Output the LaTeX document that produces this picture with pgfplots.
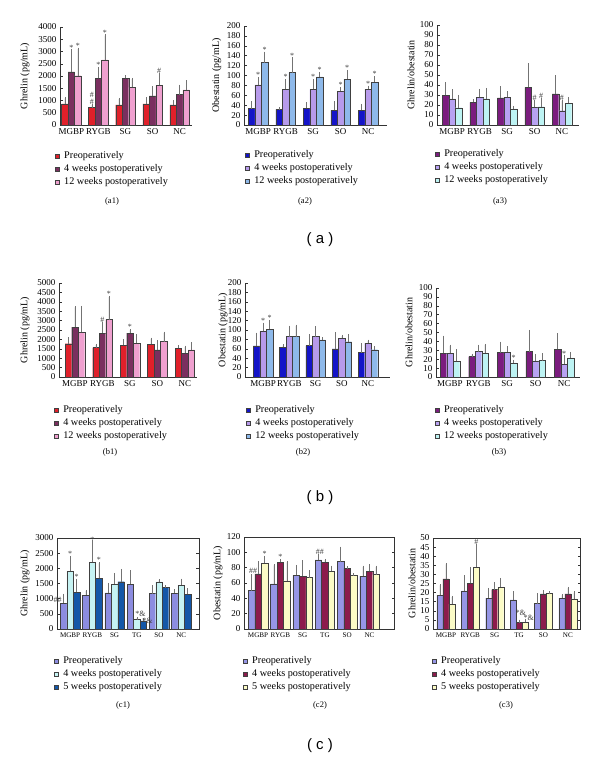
\documentclass[border=0pt]{standalone}
\usepackage{pgfplots}
\pgfplotsset{compat=1.18}
\usepackage{fontspec}
\setmainfont{Liberation Serif}
\newfontfamily\sansf{Liberation Sans}
\newcommand\fs[1]{\fontsize{#1}{#1}\selectfont}

\definecolor{aA}{HTML}{E0202A}
\definecolor{aB}{HTML}{7A2F5F}
\definecolor{aC}{HTML}{EFA0CF}
\definecolor{bA}{HTML}{1414C8}
\definecolor{bB}{HTML}{B79AEB}
\definecolor{bC}{HTML}{8EB9EA}
\definecolor{cA}{HTML}{7B1C7E}
\definecolor{cB}{HTML}{B8A2F2}
\definecolor{cC}{HTML}{BDF3F3}
\definecolor{dA}{HTML}{8C8CE0}
\definecolor{dB}{HTML}{C6F3F3}
\definecolor{dC}{HTML}{1457A8}
\definecolor{eA}{HTML}{9696E6}
\definecolor{eB}{HTML}{8C1B4C}
\definecolor{eC}{HTML}{FBFBC6}

\tikzset{ann/.style={font=\fs{8}, text=black!75, inner sep=0.3pt, anchor=south}}

\pgfplotsset{
  base/.style={
    scale only axis, anchor=south west, clip=false,
    ybar=0pt, bar width=6.5pt, ymin=0,
    /pgf/number format/assume math mode=true,
    /pgf/number format/1000 sep={},
    yticklabel style={font=\fs{9}},
    ylabel style={font=\fs{10}},
    tick align=inside,
    major tick length=2.5pt,
    xtick style={draw=none},
    axis line style={black!80, line width=0.5pt},
    every tick/.style={black!80, line width=0.4pt},
    error bars/y dir=plus, error bars/y explicit,
    error bars/error bar style={black!55, line width=0.5pt},
    error bars/error mark options={black!55, mark size=1.2pt, line width=0.5pt},
    legend cell align=left,
    legend image code/.code={\draw[##1,draw=black!75,line width=0.45pt] (0pt,-2pt) rectangle (4pt,2pt);},
    legend style={draw=none, fill=none, font=\fs{10.2}, inner sep=0pt, anchor=north west,
      row sep=3.2pt, nodes={inner sep=0.6pt},
      /tikz/every odd column/.append style={column sep=4pt}},
    every axis plot/.append style={draw=black!75, line width=0.35pt},
  },
  open/.style={base, axis x line*=bottom, axis y line*=left, axis line style={-},
    xticklabel style={font=\fs{9}}},
  boxed/.style={base, xticklabel style={font=\fs{7.1}}},
}

\begin{document}
\begin{tikzpicture}
\path[use as bounding box] (0pt,0pt) rectangle (600pt,762pt);

% ---------------- (a1)
\begin{axis}[open, at={(60pt,637pt)}, width=132pt, height=98pt,
  xmin=-0.42, xmax=4.46, ymax=4000, ytick={0,500,...,4000},
  xtick={0,...,4}, xticklabels={MGBP,RYGB,SG,SO,NC},
  ylabel={Ghrelin (pg/mL)}, ylabel style={at={(axis description cs:-0.265,0.5)},anchor=center},
  legend style={at={(-0.038,-0.265)}}]
\addplot[fill=aA] coordinates {(0,860)+-(0,230) (1,710)+-(0,110) (2,820)+-(0,240) (3,860)+-(0,230) (4,820)+-(0,140)};
\addplot[fill=aB] coordinates {(0,2170)+-(0,870) (1,1900)+-(0,420) (2,1900)+-(0,80) (3,1190)+-(0,350) (4,1240)+-(0,360)};
\addplot[fill=aC] coordinates {(0,2010)+-(0,1100) (1,2660)+-(0,990) (2,1540)+-(0,330) (3,1620)+-(0,470) (4,1430)+-(0,340)};
\legend{Preoperatively,4 weeks postoperatively,12 weeks postoperatively}
\node[ann] at (axis cs:0,3040) {*};
\node[ann,xshift=6.5pt] at (axis cs:0,3110) {*};
\node[ann,xshift=-6.5pt] at (axis cs:1,820) {\#};
\node[ann,xshift=-6.5pt] at (axis cs:1,1120) {\#};
\node[ann] at (axis cs:1,2320) {*};
\node[ann,xshift=6.5pt] at (axis cs:1,3650) {*};
\node[ann,xshift=6.5pt] at (axis cs:3,2090) {\#};
\end{axis}

% ---------------- (a2)
\begin{axis}[open, at={(244pt,637pt)}, width=143pt, height=99pt,
  xmin=-0.51, xmax=4.69, ymax=200, ytick={0,20,...,200},
  xtick={0,...,4}, xticklabels={MGBP,RYGB,SG,SO,NC},
  ylabel={Obestatin (pg/mL)}, ylabel style={at={(axis description cs:-0.19,0.5)},anchor=center},
  legend style={at={(0.007,-0.253)}}]
\addplot[fill=bA] coordinates {(0,33)+-(0,13) (1,31.5)+-(0,2) (2,33.5)+-(0,10.5) (3,29.5)+-(0,16.5) (4,30)+-(0,10)};
\addplot[fill=bB] coordinates {(0,81)+-(0,14) (1,72)+-(0,18) (2,72)+-(0,18) (3,68)+-(0,6) (4,72.5)+-(0,4.5)};
\addplot[fill=bC] coordinates {(0,126)+-(0,20) (1,106)+-(0,28) (2,97)+-(0,8) (3,92.6)+-(0,16.4) (4,86.6)+-(0,10.4)};
\legend{Preoperatively,4 weeks postoperatively,12 weeks postoperatively}
\node[ann] at (axis cs:0,95) {*};
\node[ann,xshift=6.5pt] at (axis cs:0,146) {*};
\node[ann] at (axis cs:1,90) {*};
\node[ann,xshift=6.5pt] at (axis cs:1,134) {*};
\node[ann] at (axis cs:2,90) {*};
\node[ann,xshift=6.5pt] at (axis cs:2,105) {*};
\node[ann] at (axis cs:3,74) {*};
\node[ann,xshift=6.5pt] at (axis cs:3,109) {*};
\node[ann] at (axis cs:4,77) {*};
\node[ann,xshift=6.5pt] at (axis cs:4,97) {*};
\end{axis}

% ---------------- (a3)
\begin{axis}[open, at={(437pt,637pt)}, width=142pt, height=100pt,
  xmin=-0.55, xmax=4.62, ymax=100, ytick={0,10,...,100},
  xtick={0,...,4}, xticklabels={MGBP,RYGB,SG,SO,NC},
  ylabel={Ghrelin/obestatin}, ylabel style={at={(axis description cs:-0.183,0.5)},anchor=center},
  legend style={at={(-0.014,-0.24)}}]
\addplot[fill=cA] coordinates {(0,29.7)+-(0,12) (1,22.7)+-(0,1.6) (2,27)+-(0,10.3) (3,37.7)+-(0,22.6) (4,31)+-(0,17.3)};
\addplot[fill=cB] coordinates {(0,26)+-(0,8.3) (1,27.7)+-(0,7.3) (2,27.7)+-(0,5) (3,17.7)+-(0,6.3) (4,14.3)+-(0,9.7)};
\addplot[fill=cC] coordinates {(0,17.3)+-(0,11.7) (1,26.3)+-(0,9.7) (2,16)+-(0,2) (3,18.3)+-(0,7.7) (4,21.7)+-(0,5.3)};
\legend{Preoperatively,4 weeks postoperatively,12 weeks postoperatively}
\node[ann] at (axis cs:3,24) {\#};
\node[ann,xshift=6.5pt] at (axis cs:3,26) {\#};
\node[ann] at (axis cs:4,24) {\#};
\end{axis}

% ---------------- (b1)
\begin{axis}[open, at={(59pt,385pt)}, width=138pt, height=94pt,
  xmin=-0.58, xmax=4.44, ymax=5000, ytick={0,500,...,5000},
  xtick={0,...,4}, xticklabels={MGBP,RYGB,SG,SO,NC},
  ylabel={Ghrelin (pg/mL)}, ylabel style={at={(axis description cs:-0.246,0.5)},anchor=center},
  legend style={at={(-0.036,-0.298)}}]
\addplot[fill=aA] coordinates {(0,1770)+-(0,280) (1,1560)+-(0,140) (2,1680)+-(0,270) (3,1740)+-(0,290) (4,1530)+-(0,90)};
\addplot[fill=aB] coordinates {(0,2650)+-(0,1050) (1,2330)+-(0,520) (2,2330)+-(0,150) (3,1440)+-(0,460) (4,1250)+-(0,350)};
\addplot[fill=aC] coordinates {(0,2370)+-(0,1350) (1,3050)+-(0,1200) (2,1800)+-(0,400) (3,1880)+-(0,470) (4,1440)+-(0,340)};
\legend{Preoperatively,4 weeks postoperatively,12 weeks postoperatively}
\node[ann] at (axis cs:1,2850) {\#};
\node[ann,xshift=6.5pt] at (axis cs:1,4250) {*};
\node[ann] at (axis cs:2,2480) {*};
\end{axis}

% ---------------- (b2)
\begin{axis}[open, at={(245pt,385pt)}, width=145pt, height=94pt,
  xmin=-0.69, xmax=4.84, ymax=200, ytick={0,20,...,200},
  xtick={0,...,4}, xticklabels={MGBP,RYGB,SG,SO,NC},
  ylabel={Obestatin (pg/mL)}, ylabel style={at={(axis description cs:-0.152,0.5)},anchor=center},
  legend style={at={(0.007,-0.298)}}]
\addplot[fill=bA] coordinates {(0,66)+-(0,26) (1,63)+-(0,4) (2,67)+-(0,21) (3,60)+-(0,33) (4,52)+-(0,17)};
\addplot[fill=bB] coordinates {(0,97)+-(0,16) (1,86)+-(0,21) (2,86)+-(0,19) (3,82)+-(0,5) (4,72)+-(0,5)};
\addplot[fill=bC] coordinates {(0,102)+-(0,17) (1,86)+-(0,23) (2,79)+-(0,3) (3,75)+-(0,13) (4,58)+-(0,5)};
\legend{Preoperatively,4 weeks postoperatively,12 weeks postoperatively}
\node[ann] at (axis cs:0,113) {*};
\node[ann,xshift=6.5pt] at (axis cs:0,119) {*};
\end{axis}

% ---------------- (b3)
\begin{axis}[open, at={(436pt,385pt)}, width=144pt, height=89pt,
  xmin=-0.49, xmax=4.56, ymax=100, ytick={0,10,...,100},
  xtick={0,...,4}, xticklabels={MGBP,RYGB,SG,SO,NC},
  ylabel={Ghrelin/obestatin}, ylabel style={at={(axis description cs:-0.1875,0.5)},anchor=center},
  legend style={at={(-0.007,-0.315)}}]
\addplot[fill=cA] coordinates {(0,26.5)+-(0,18.5) (1,23)+-(0,2) (2,27.5)+-(0,11) (3,28.5)+-(0,23) (4,31)+-(0,17)};
\addplot[fill=cB] coordinates {(0,26.5)+-(0,8.5) (1,28.5)+-(0,6.5) (2,28)+-(0,5) (3,18)+-(0,6.5) (4,14.5)+-(0,8.5)};
\addplot[fill=cC] coordinates {(0,17.5)+-(0,12.5) (1,26.5)+-(0,9.5) (2,16)+-(0,2) (3,18.5)+-(0,7) (4,21.5)+-(0,5.5)};
\legend{Preoperatively,4 weeks postoperatively,12 weeks postoperatively}
\node[ann,xshift=6.5pt] at (axis cs:2,18) {*};
\node[ann] at (axis cs:4,23) {*};
\end{axis}

% ---------------- (c1)
\begin{axis}[boxed, at={(57pt,133pt)}, width=142pt, height=91pt,
  xmin=-0.59, xmax=5.8, ymax=3000, ytick={0,500,...,3000},
  xtick={0,...,5}, xticklabels={MGBP,RYGB,SG,TG,SO,NC},
  ylabel={Ghrelin (pg/mL)}, ylabel style={at={(axis description cs:-0.225,0.5)},anchor=center},
  legend style={at={(-0.021,-0.297)}}]
\addplot[fill=dA] coordinates {(0,850)+-(0,280) (1,1120)+-(0,130) (2,1190)+-(0,290) (3,1480)+-(0,420) (4,1170)+-(0,230) (5,1180)+-(0,90)};
\addplot[fill=dB] coordinates {(0,1900)+-(0,470) (1,2200)+-(0,700) (2,1480)+-(0,330) (3,310)+-(0,50) (4,1550)+-(0,50) (5,1450)+-(0,170)};
\addplot[fill=dC] coordinates {(0,1210)+-(0,410) (1,1680)+-(0,480) (2,1560)+-(0,380) (3,270)+-(0,50) (4,1380)+-(0,20) (5,1140)+-(0,160)};
\legend{Preoperatively,4 weeks postoperatively,5 weeks postoperatively}
\node[ann,anchor=south east,xshift=-8pt] at (axis cs:0,850) {\#\#};
\node[ann] at (axis cs:0,2370) {*};
\node[ann,xshift=6.5pt] at (axis cs:0,1620) {*};
\node[ann] at (axis cs:1,2830) {*};
\node[ann,xshift=6.5pt] at (axis cs:1,2160) {*};
\node[ann,anchor=south west,xshift=-2pt] at (axis cs:3,400) {*\&};
\node[ann,anchor=south west,xshift=5pt] at (axis cs:3,170) {*\&};
\end{axis}

% ---------------- (c2)
\begin{axis}[boxed, at={(244pt,133pt)}, width=150pt, height=92pt,
  xmin=-0.63, xmax=6.1, ymax=120, ytick={0,20,...,120},
  xtick={0,...,5}, xticklabels={MGBP,RYGB,SG,TG,SO,NC},
  ylabel={Obestatin (pg/mL)}, ylabel style={at={(axis description cs:-0.173,0.5)},anchor=center},
  legend style={at={(-0.007,-0.293)}}]
\addplot[fill=eA] coordinates {(0,50)+-(0,20) (1,59)+-(0,24) (2,70)+-(0,12) (3,90)+-(0,6) (4,88)+-(0,18) (5,69)+-(0,12)};
\addplot[fill=eB] coordinates {(0,72)+-(0,15) (1,87)+-(0,3) (2,69)+-(0,19) (3,87)+-(0,3) (4,79)+-(0,1) (5,75)+-(0,8)};
\addplot[fill=eC] coordinates {(0,86)+-(0,8) (1,63)+-(0,24) (2,67)+-(0,8) (3,75)+-(0,6) (4,70)+-(0,1) (5,71)+-(0,10)};
\legend{Preoperatively,4 weeks postoperatively,5 weeks postoperatively}
\node[ann,xshift=-5pt] at (axis cs:0,72) {\#\#};
\node[ann,xshift=6.5pt] at (axis cs:0,94) {*};
\node[ann] at (axis cs:1,90) {*};
\node[ann,xshift=-5pt] at (axis cs:3,96) {\#\#};
\end{axis}

% ---------------- (c3)
\begin{axis}[boxed, at={(433pt,133pt)}, width=147pt, height=91pt, bar width=6pt,
  xmin=-0.53, xmax=5.5, ymax=50, ytick={0,5,...,50},
  xtick={0,...,5}, xticklabels={MGBP,RYGB,SG,TG,SO,NC},
  ylabel={Ghrelin/obestatin}, ylabel style={at={(axis description cs:-0.143,0.5)},anchor=center},
  legend style={at={(-0.007,-0.297)}}]
\addplot[fill=eA] coordinates {(0,18.5)+-(0,5.5) (1,21)+-(0,8) (2,17)+-(0,5) (3,16)+-(0,4) (4,14)+-(0,5) (5,17)+-(0,1.5)};
\addplot[fill=eB] coordinates {(0,27.5)+-(0,8) (1,25)+-(0,8.5) (2,21.7)+-(0,3.3) (3,3.5)+-(0,1) (4,19.3)+-(0,1.2) (5,19.3)+-(0,3.2)};
\addplot[fill=eC] coordinates {(0,13.7)+-(0,3.8) (1,34)+-(0,12) (2,23)+-(0,4.5) (3,3.7)+-(0,1.3) (4,19.7)+-(0,0.3) (5,16.5)+-(0,3.5)};
\legend{Preoperatively,4 weeks postoperatively,5 weeks postoperatively}
\node[ann,xshift=6pt] at (axis cs:1,46) {\#};
\node[ann,anchor=south west,xshift=-4pt] at (axis cs:3,7) {*\&};
\node[ann,anchor=south west,xshift=4pt] at (axis cs:3,4.5) {*\&};
\end{axis}

% sub labels
\node[font=\fs{8.5}] at (112pt,561pt) {(a1)};
\node[font=\fs{8.5}] at (305pt,561pt) {(a2)};
\node[font=\fs{8.5}] at (500pt,561pt) {(a3)};
\node[font=\fs{8.5}] at (110pt,310pt) {(b1)};
\node[font=\fs{8.5}] at (303pt,310pt) {(b2)};
\node[font=\fs{8.5}] at (499pt,310pt) {(b3)};
\node[font=\fs{8.5}] at (123pt,57pt) {(c1)};
\node[font=\fs{8.5}] at (320pt,57pt) {(c2)};
\node[font=\fs{8.5}] at (506pt,57pt) {(c3)};
% group labels
\node[font=\sansf\fs{15}] at (320pt,522pt) {( a )};
\node[font=\sansf\fs{15}] at (320pt,264pt) {( b )};
\node[font=\sansf\fs{15}] at (320pt,16pt) {( c )};
\end{tikzpicture}
\end{document}
